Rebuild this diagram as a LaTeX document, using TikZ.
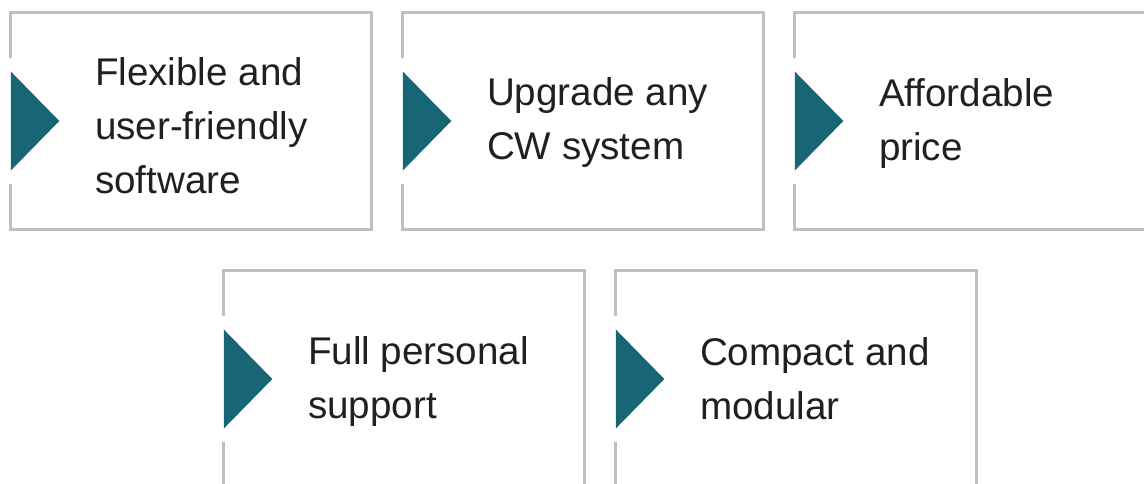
\documentclass[tikz,border=0pt]{standalone}
\usepackage{fontspec}
\setmainfont{Liberation Sans}
\usetikzlibrary{calc}

\definecolor{framegray}{RGB}{192,192,196}
\definecolor{markteal}{RGB}{23,101,117}
\definecolor{textdark}{RGB}{35,31,32}

\begin{document}
\begin{tikzpicture}[x=1pt, y=-1pt,
    box/.style={rectangle, minimum width=360pt, minimum height=217pt, inner sep=0pt},
    frame/.style={draw=framegray, line width=3.3pt},
    marker/.style={fill=markteal},
    label/.style={anchor=base west, align=left, inner sep=0pt, text=textdark,
      font=\fontsize{38.6}{54}\selectfont}]
    \clip (0,0) rectangle (1144,483);
    % boxes: name / centre / baseline of last line below centre / text
    \foreach \nm/\cx/\cy/\dy/\txt in {
        b1/191/121/72/{Flexible and\\user-friendly\\software},
        b2/583/121/38/{Upgrade any\\CW system},
        b3/975/121/39/{Affordable\\price},
        b4/404/379/39/{Full personal\\support},
        b5/796/379/40/{Compact and\\modular}}{
      \node[box] (\nm) at (\cx,\cy) {};
      \draw[frame] ([yshift=-63pt]\nm.west) -- (\nm.south west) -- (\nm.south east)
        -- (\nm.north east) -- (\nm.north west) -- ([yshift=63pt]\nm.west);
      \fill[marker] ([yshift=49.5pt]\nm.west) -- ([xshift=48.5pt]\nm.west)
        -- ([yshift=-49.5pt]\nm.west) -- cycle;
      \node[label] (\nm-txt) at ([xshift=84pt,yshift=-\dy pt]\nm.west) {\txt};
    }
  \end{tikzpicture}
\end{document}
